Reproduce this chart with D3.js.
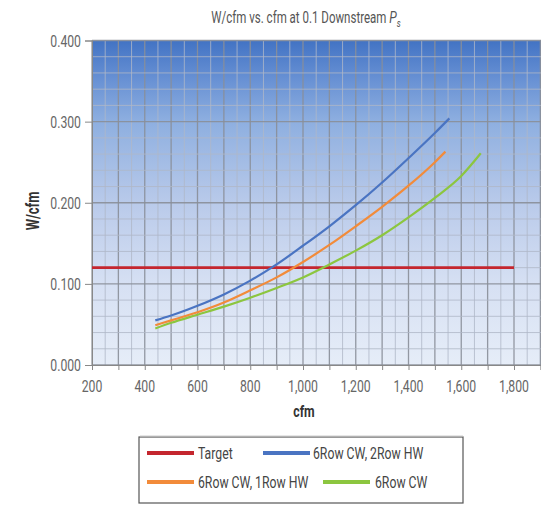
<!DOCTYPE html>
<html><head><meta charset="utf-8">
<script src="https://cdn.jsdelivr.net/npm/d3@7"></script>
<style>
html,body{margin:0;padding:0;background:#fff;}
text{font-family:"Roboto","Liberation Sans",sans-serif;}
</style></head>
<body><svg id="c" width="541" height="505"></svg>
<script>
// ---- data ----
const xTicks = [200,400,600,800,1000,1200,1400,1600,1800];
const yTicks = [0.0,0.1,0.2,0.3,0.4];
const targetValue = 0.12;
const targetRange = [200,1800];
const blueCfm  = [440,500,600,700,800,900,1000,1100,1200,1300,1400,1500,1555];
const blueVal  = [0.055,0.061,0.073,0.087,0.104,0.124,0.147,0.171,0.197,0.225,0.255,0.286,0.304];
const orangeCfm = [440,500,600,700,800,900,1000,1100,1200,1300,1400,1500,1540];
const orangeVal = [0.049,0.055,0.065,0.077,0.092,0.108,0.127,0.148,0.171,0.195,0.221,0.250,0.263];
const greenCfm = [440,500,600,700,800,900,1000,1100,1200,1300,1400,1500,1600,1674];
const greenVal = [0.045,0.052,0.062,0.072,0.083,0.095,0.108,0.124,0.141,0.160,0.182,0.206,0.233,0.261];
const seriesNames = ["Target","6Row CW, 2Row HW","6Row CW, 1Row HW","6Row CW"];
const seriesColors = ["#c4262e","#4a74c2","#f28b3a","#8cc63f"];

const SX = 0.72; // condensed look
const svg = d3.select("#c");
const x = d3.scaleLinear().domain([200,2000]).range([92,92+1800*0.26375]);
const y = d3.scaleLinear().domain([0,0.4]).range([365,40.5]);
const plotRight = 541;

function label(parent, px, py, txt, opts){
  const o = Object.assign({size:17, anchor:"start", fill:"#666", weight:"normal", rot:0, sx:SX}, opts||{});
  const gg = parent.append("g").attr("transform",`translate(${px},${py}) rotate(${o.rot}) scale(${o.sx},1)`);
  return gg.append("text").attr("text-anchor",o.anchor).attr("font-size",o.size)
    .attr("font-weight",o.weight).attr("fill",o.fill).text(txt);
}

// background gradient
const defs = svg.append("defs");
const g = defs.append("linearGradient").attr("id","bg").attr("x1",0).attr("y1",0).attr("x2",0).attr("y2",1);
[[0,"#4273c4"],[0.12,"#6891d4"],[0.25,"#8eafe0"],[0.5,"#b9caea"],[0.75,"#d6e0f3"],[1,"#e6edf8"]]
  .forEach(s=>g.append("stop").attr("offset",s[0]).attr("stop-color",s[1]));
svg.append("rect").attr("x",x(200)).attr("y",y(0.4)).attr("width",plotRight-x(200)).attr("height",y(0)-y(0.4)).attr("fill","url(#bg)");

// grid
const grid = svg.append("g");
d3.range(200,2001,50).forEach(v=>{
  const major = v%100===0;
  grid.append("line").attr("x1",x(v)).attr("x2",x(v)).attr("y1",y(0.4)).attr("y2",y(0))
    .attr("stroke",major?"#8a8f99":"#b0b8c8").attr("stroke-width",major?1.3:1).attr("opacity",major?0.9:0.8);
});
d3.range(0,0.4001,0.02).forEach(v=>{
  const major = Math.abs(Math.round(v*10)-v*10)<1e-6;
  grid.append("line").attr("x1",x(200)).attr("x2",plotRight).attr("y1",y(v)).attr("y2",y(v))
    .attr("stroke",major?"#8a8f99":"#b0b8c8").attr("stroke-width",major?1.3:1).attr("opacity",major?0.9:0.8);
});

// axes
const xAxis = svg.append("g").attr("transform",`translate(0,${y(0)})`)
  .call(d3.axisBottom(x).tickValues(d3.range(200,2001,100)).tickSize(5).tickFormat(""));
xAxis.select(".domain").attr("stroke","#888");
xAxis.selectAll(".tick line").attr("stroke","#888");
const xl = svg.append("g");
xTicks.forEach(d=>label(xl, x(d), 392, d3.format(",")(d), {anchor:"middle"}));

const yAxis = svg.append("g").attr("transform",`translate(${x(200)},0)`)
  .call(d3.axisLeft(y).tickValues(yTicks).tickSize(7).tickFormat(""));
yAxis.select(".domain").attr("stroke","#888");
yAxis.selectAll(".tick line").attr("stroke","#888");
const yl = svg.append("g");
yTicks.forEach(d=>label(yl, 81, y(d)+6, d3.format(".3f")(d), {anchor:"end"}));

// titles
const t = label(svg, 306, 23, "", {anchor:"middle", size:16, fill:"#555"});
t.append("tspan").text("W/cfm vs. cfm at 0.1 Downstream ");
t.append("tspan").attr("font-style","italic").attr("font-size",17).text("P");
t.append("tspan").attr("font-style","italic").attr("font-size",11).attr("dy",4).text("s");

label(svg, 39, 211, "W/cfm", {anchor:"middle", size:18, weight:"bold", fill:"#333", rot:-90});
label(svg, 304, 417, "cfm", {anchor:"middle", size:17, weight:"bold", fill:"#333"});

// lines
const line = d3.line().x(d=>x(d[0])).y(d=>y(d[1])).curve(d3.curveMonotoneX);
const lines = svg.append("g").attr("fill","none").attr("stroke-width",2.2);
lines.append("path").attr("d",line(targetRange.map(c=>[c,targetValue]))).attr("stroke",seriesColors[0]).attr("stroke-width",2.6);
lines.append("path").attr("d",line(d3.zip(greenCfm,greenVal))).attr("stroke",seriesColors[3]);
lines.append("path").attr("d",line(d3.zip(orangeCfm,orangeVal))).attr("stroke",seriesColors[2]);
lines.append("path").attr("d",line(d3.zip(blueCfm,blueVal))).attr("stroke",seriesColors[1]);

// legend
svg.append("rect").attr("x",139).attr("y",437).attr("width",324).attr("height",66)
  .attr("fill","#fff").attr("stroke","#555").attr("stroke-width",1.2);
svg.append("line").attr("x1",140).attr("x2",463).attr("y1",436).attr("y2",436).attr("stroke","#ccc").attr("stroke-width",1);
const legendItems = [
  {i:0, lx:147, tx:198, ty:453},
  {i:1, lx:263, tx:313, ty:453},
  {i:2, lx:147, tx:198, ty:482},
  {i:3, lx:323, tx:375, ty:482}
];
const lg = svg.append("g");
legendItems.forEach(it=>{
  lg.append("line").attr("x1",it.lx).attr("x2",it.lx+47).attr("y1",it.ty).attr("y2",it.ty)
    .attr("stroke",seriesColors[it.i]).attr("stroke-width",4);
  label(lg, it.tx, it.ty+6, seriesNames[it.i], {size:17, fill:"#444"});
});
</script></body></html>
